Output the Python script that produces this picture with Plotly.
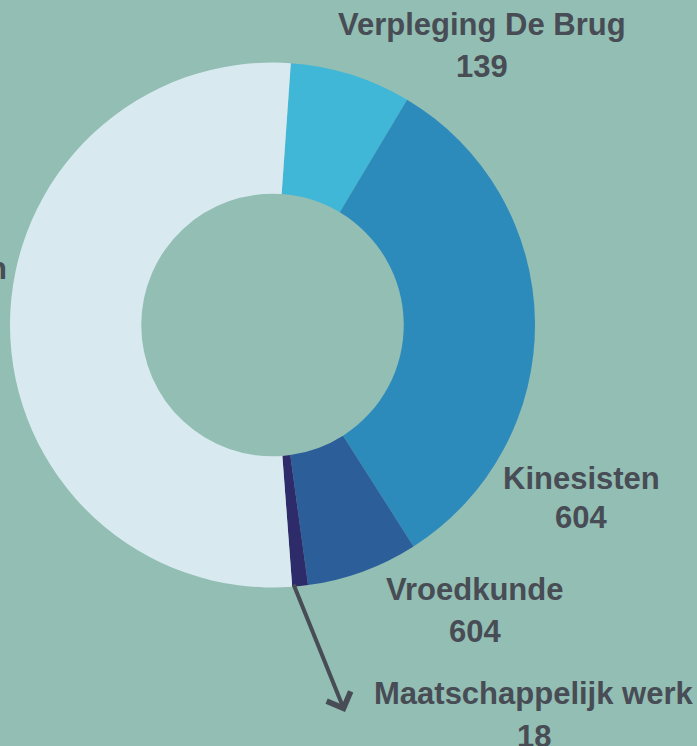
import plotly.graph_objects as go

W, H = 697, 746

categories = ["Verpleging De Brug", "Kinesisten", "Vroedkunde", "Maatschappelijk werk", "Verpleegkundigen"]
values = [139, 604, 128, 18, 975]
label_numbers = ["139", "604", "604", "18", "975"]
colors = ["#40b7d7", "#2d8bbc", "#2c5f9a", "#2e2b6b", "#d8eaf0"]

BG = "#93beb3"
TXT = "#474c55"
FONT = "Liberation Sans, Arial, sans-serif"
FS = 31

def px(x):
    return x / W

def py(y):
    return 1 - y / H

cx, cy, R = 272.5, 325, 262.5

fig = go.Figure(go.Pie(
    labels=categories,
    values=values,
    marker=dict(colors=colors, line=dict(width=0)),
    hole=0.5,
    sort=False,
    direction="clockwise",
    rotation=4,
    textinfo="none",
    hoverinfo="label+value",
    showlegend=False,
    domain=dict(x=[px(cx - R), px(cx + R)], y=[py(cy + R), py(cy - R)]),
))

# label positions (center x, name-line y, number-line y) in pixels
label_pos = [
    (481.5, 24.5, 66),
    (581, 478, 517),
    (474.5, 589.5, 631.5),
    (533.5, 693.5, 736),
]

annotations = []
for i, (x, y1, y2) in enumerate(label_pos):
    annotations.append(dict(x=px(x), y=py(y1), xref="paper", yref="paper",
                            text="<b>%s</b>" % categories[i], showarrow=False,
                            xanchor="center", yanchor="middle",
                            font=dict(family=FONT, size=FS, color=TXT)))
    annotations.append(dict(x=px(x), y=py(y2), xref="paper", yref="paper",
                            text="<b>%s</b>" % label_numbers[i], showarrow=False,
                            xanchor="center", yanchor="middle",
                            font=dict(family=FONT, size=FS, color=TXT)))

# left (cut-off) label
annotations.append(dict(x=px(9), y=py(268), xref="paper", yref="paper",
                        text="<b>%s</b>" % categories[4], showarrow=False,
                        xanchor="right", yanchor="middle",
                        font=dict(family=FONT, size=FS, color=TXT)))

# arrow to Maatschappelijk werk
annotations.append(dict(x=px(345), y=py(712), xref="paper", yref="paper",
                        ax=293 - 345, ay=583 - 712, axref="pixel", ayref="pixel",
                        text="", showarrow=True, arrowhead=4, arrowsize=1.25,
                        arrowwidth=4, arrowcolor=TXT))

fig.update_layout(
    width=W, height=H,
    margin=dict(l=0, r=0, t=0, b=0),
    paper_bgcolor=BG, plot_bgcolor=BG,
    annotations=annotations,
)

fig.write_html("out.html", config={"displayModeBar": False},
               post_script="document.body.style.margin='0';document.body.style.overflow='hidden';")
